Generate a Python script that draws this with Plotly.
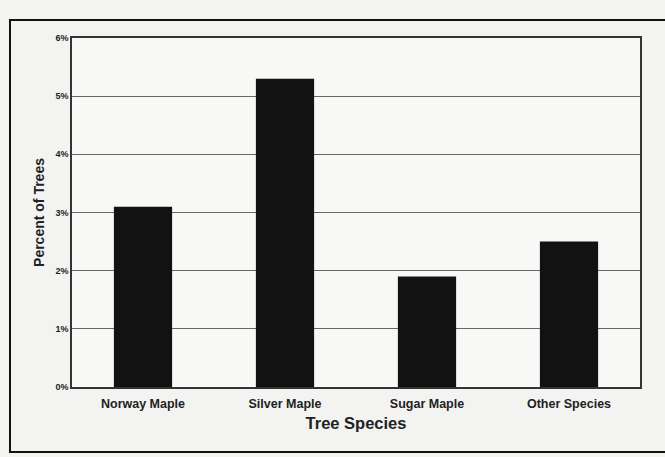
import plotly.graph_objects as go

categories = ["Norway Maple", "Silver Maple", "Sugar Maple", "Other Species"]
values = [3.1, 5.3, 1.9, 2.5]
tick_vals = [0, 1, 2, 3, 4, 5, 6]
tick_text = ["0%", "1%", "2%", "3%", "4%", "5%", "6%"]

fig = go.Figure(go.Bar(x=categories, y=values, marker=dict(color="#121212", line=dict(width=0))))

W, H = 665, 457
L, R, T, B = 72, 25, 38, 70
pw, ph = W - L - R, H - T - B

def px(x):
    return (x - L) / pw

def py(y):
    return (H - B - y) / ph

fig.update_layout(
    width=W, height=H,
    margin=dict(l=L, r=R, t=T, b=B),
    paper_bgcolor="#f3f4f2",
    plot_bgcolor="#f8f8f7",
    bargap=0.59,
    showlegend=False,
    font=dict(family="Liberation Sans, Arial, sans-serif", color="#222"),
    xaxis=dict(
        showline=True, linecolor="#333", linewidth=1.5, mirror=True,
        ticks="outside", ticklen=4, tickcolor="rgba(0,0,0,0)",
        tickfont=dict(size=12.5, weight="bold"),
        title=dict(text="<b>Tree Species</b>", font=dict(size=16.5), standoff=8),
    ),
    yaxis=dict(
        range=[0, 6], tickvals=tick_vals, ticktext=tick_text,
        showline=True, linecolor="#333", linewidth=1.5, mirror=True,
        showgrid=True, gridcolor="#666", gridwidth=1,
        ticks="", tickfont=dict(size=9, weight="bold"),
        title=dict(text="<b>Percent of Trees</b>", font=dict(size=14), standoff=8),
    ),
    shapes=[dict(
        type="rect", xref="paper", yref="paper",
        x0=px(10), x1=px(668), y0=py(452), y1=py(20),
        line=dict(color="#111", width=2), fillcolor="rgba(0,0,0,0)", layer="below",
    )],
)

fig.write_html(
    "out.html",
    config={"displayModeBar": False},
    post_script="document.body.style.margin='0';document.body.style.overflow='hidden';",
)
